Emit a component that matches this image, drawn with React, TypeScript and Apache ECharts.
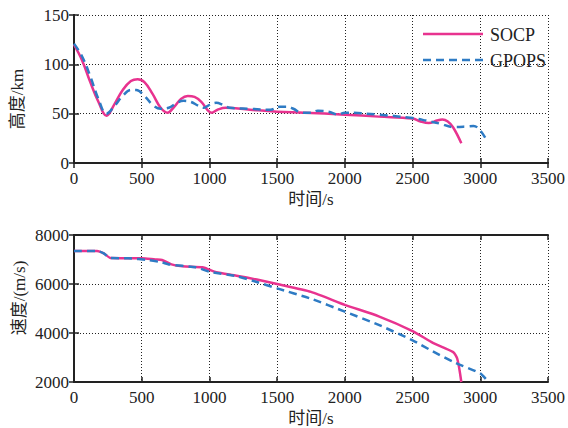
import React, { useEffect, useRef } from "react";
import * as echarts from "echarts";

const xTicks = [0, 500, 1000, 1500, 2000, 2500, 3000, 3500];

const socpHeightT = [0, 60, 120, 180, 240, 300, 360, 420, 470, 520, 580, 640, 690, 740, 790, 840, 890, 940, 990, 1015, 1060, 1120, 1300, 1500, 1700, 2000, 2250, 2500, 2560, 2620, 2680, 2720, 2760, 2800, 2860];
const socpHeight = [120, 104, 82, 62, 48, 60, 74, 83, 85, 82, 70, 56, 51, 57, 65, 68, 67, 62, 53, 51, 54, 56, 54, 52, 51, 49, 47, 45, 42, 40.5, 43, 44, 42, 36, 20];

const gpopsHeightT = [0, 60, 120, 180, 240, 300, 360, 420, 460, 520, 580, 640, 700, 760, 810, 860, 920, 960, 1000, 1050, 1100, 1150, 1300, 1450, 1520, 1570, 1620, 1680, 1750, 1800, 1880, 1950, 2000, 2250, 2500, 2600, 2700, 2800, 2900, 2950, 3000, 3050];
const gpopsHeight = [121, 108, 88, 65, 50, 58, 68, 74, 74, 68, 59, 55, 56, 61, 63, 62, 58, 56, 59, 61, 59, 56, 55, 54, 57, 57, 55, 51, 51, 53, 52, 49, 51, 49, 45.5, 43, 40, 36.5, 37, 37.5, 33, 22];

const socpSpeedT = [0, 170, 220, 270, 500, 600, 650, 720, 800, 950, 1000, 1050, 1200, 1350, 1500, 1750, 2000, 2250, 2500, 2650, 2800, 2830, 2860];
const socpSpeed = [7350, 7350, 7250, 7060, 7050, 7000, 6980, 6800, 6720, 6680, 6580, 6480, 6340, 6180, 6000, 5680, 5150, 4680, 4080, 3600, 3220, 2950, 2000];

const gpopsSpeedT = [0, 170, 220, 270, 400, 550, 650, 700, 900, 1000, 1200, 1350, 1500, 1750, 2000, 2250, 2500, 2650, 2800, 3000, 3060];
const gpopsSpeed = [7350, 7350, 7250, 7060, 7050, 6980, 6880, 6800, 6680, 6500, 6320, 6080, 5820, 5400, 4870, 4330, 3700, 3250, 2820, 2350, 2000];

const seriesNames = ["SOCP", "GPOPS"];
const xName = "时间/s";
const heightName = "高度/km";
const speedName = "速度/(m/s)";

const FONT = "'Liberation Serif', 'Noto Sans CJK SC', serif";
const PINK = "#E8338F";
const BLUE = "#2E7BC4";

const zip = (t: number[], v: number[]) => t.map((x, i) => [x, v[i]]);
const plain = (v: number) => String(v);

export default function App() {
  const ref = useRef<HTMLDivElement>(null);
  useEffect(() => {
    if (!ref.current) return;
    const chart = echarts.init(ref.current, undefined, { renderer: "svg" });
    const lbl = { fontFamily: FONT, fontSize: 17, color: "#222", formatter: plain };
    const axisLine = { show: true, lineStyle: { color: "#222", width: 2 } };
    const tick = { show: true, inside: true, length: 5, lineStyle: { color: "#222", width: 1.5 } };
    const split = { show: true, lineStyle: { color: "#222", type: [1, 2] as any, width: 1 } };
    const xAxisBase = (gridIndex: number) => ({
      type: "value" as const,
      gridIndex,
      min: 0,
      max: 3500,
      interval: 500,
      axisLine,
      axisTick: tick,
      splitLine: split,
      axisLabel: { ...lbl, margin: 7 },
      name: xName,
      nameLocation: "middle" as const,
      nameGap: 28,
      nameTextStyle: { fontFamily: FONT, fontSize: 17, color: "#222" },
    });
    const xAxisTop = (gridIndex: number) => ({
      type: "value" as const,
      gridIndex,
      position: "top" as const,
      min: 0,
      max: 3500,
      interval: 500,
      axisLine,
      axisTick: tick,
      splitLine: { show: false },
      axisLabel: { show: false },
    });
    const legendText = { fontFamily: FONT, fontSize: 18, fill: "#222", verticalAlign: "middle" as const };
    const option = {
      animation: false,
      grid: [
        { left: 74, right: 16, top: 15, height: 148 },
        { left: 74, right: 16, top: 235, height: 147 },
      ],
      xAxis: [xAxisBase(0), xAxisTop(0), xAxisBase(1), xAxisTop(1)],
      yAxis: [
        {
          type: "value", gridIndex: 0, min: 0, max: 150, interval: 50,
          axisLine, axisTick: tick, splitLine: split,
          axisLabel: { ...lbl, margin: 5 },
        },
        {
          type: "value", gridIndex: 0, position: "right", min: 0, max: 150, interval: 50,
          axisLine, axisTick: tick, splitLine: { show: false }, axisLabel: { show: false },
        },
        {
          type: "value", gridIndex: 1, min: 2000, max: 8000, interval: 2000,
          axisLine, axisTick: tick, splitLine: split,
          axisLabel: { ...lbl, margin: 5 },
        },
        {
          type: "value", gridIndex: 1, position: "right", min: 2000, max: 8000, interval: 2000,
          axisLine, axisTick: tick, splitLine: { show: false }, axisLabel: { show: false },
        },
      ],
      graphic: [
        {
          type: "text", x: 17, y: 99, rotation: Math.PI / 2,
          style: { text: heightName, fontFamily: FONT, fontSize: 17, fill: "#222", align: "center", verticalAlign: "middle" },
        },
        {
          type: "text", x: 19, y: 298, rotation: Math.PI / 2,
          style: { text: speedName, fontFamily: FONT, fontSize: 17, fill: "#222", align: "center", verticalAlign: "middle" },
        },
        {
          type: "line", shape: { x1: 423, y1: 34, x2: 483, y2: 34 },
          style: { stroke: PINK, lineWidth: 2.5 }, z: 10,
        },
        {
          type: "line", shape: { x1: 423, y1: 60, x2: 483, y2: 60 },
          style: { stroke: BLUE, lineWidth: 2.5, lineDash: [8, 5] }, z: 10,
        },
        { type: "text", x: 490, y: 35, style: { ...legendText, text: seriesNames[0] }, z: 10 },
        { type: "text", x: 490, y: 61, style: { ...legendText, text: seriesNames[1] }, z: 10 },
      ],
      series: [
        {
          name: seriesNames[0], type: "line", xAxisIndex: 0, yAxisIndex: 0,
          data: zip(socpHeightT, socpHeight), symbol: "none", smooth: 0.4,
          lineStyle: { color: PINK, width: 2.5 }, itemStyle: { color: PINK }, z: 3,
        },
        {
          name: seriesNames[1], type: "line", xAxisIndex: 0, yAxisIndex: 0,
          data: zip(gpopsHeightT, gpopsHeight), symbol: "none", smooth: 0.4,
          lineStyle: { color: BLUE, width: 2.5, type: [8, 5] }, itemStyle: { color: BLUE }, z: 4,
        },
        {
          name: seriesNames[0], type: "line", xAxisIndex: 2, yAxisIndex: 2,
          data: zip(socpSpeedT, socpSpeed), symbol: "none", smooth: 0.2,
          lineStyle: { color: PINK, width: 2.5 }, itemStyle: { color: PINK }, z: 3,
        },
        {
          name: seriesNames[1], type: "line", xAxisIndex: 2, yAxisIndex: 2,
          data: zip(gpopsSpeedT, gpopsSpeed), symbol: "none", smooth: 0.2,
          lineStyle: { color: BLUE, width: 2.5, type: [8, 5] }, itemStyle: { color: BLUE }, z: 4,
        },
      ],
    };
    chart.setOption(option as any);
    return () => chart.dispose();
  }, []);
  return (
    <div
      ref={ref}
      style={{ position: "absolute", left: 0, top: 0, width: 568, height: 428, background: "#fff" }}
    />
  );
}
